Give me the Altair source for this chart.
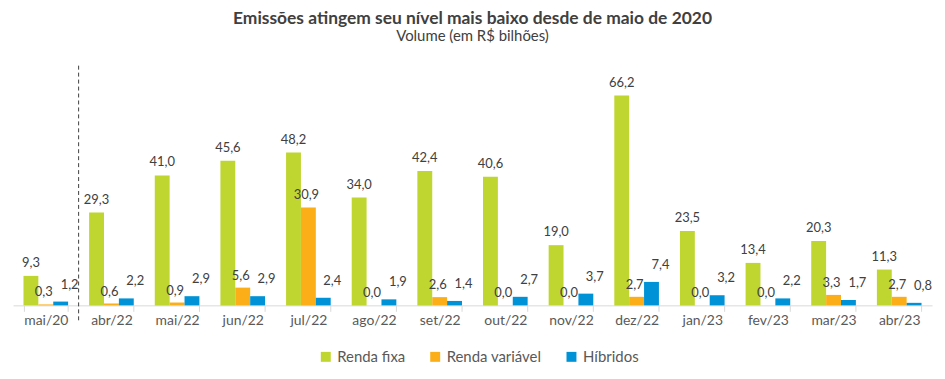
import altair as alt
import pandas as pd

cats = ["mai/20", "abr/22", "mai/22", "jun/22", "jul/22", "ago/22", "set/22",
        "out/22", "nov/22", "dez/22", "jan/23", "fev/23", "mar/23", "abr/23"]
series = ["Renda fixa", "Renda variável", "Híbridos"]
fixa = [9.3, 29.3, 41.0, 45.6, 48.2, 34.0, 42.4, 40.6, 19.0, 66.2, 23.5, 13.4, 20.3, 11.3]
variavel = [0.3, 0.6, 0.9, 5.6, 30.9, 0.0, 2.6, 0.0, 0.0, 2.7, 0.0, 0.0, 3.3, 2.7]
hibridos = [1.2, 2.2, 2.9, 2.9, 2.4, 1.9, 1.4, 2.7, 3.7, 7.4, 3.2, 2.2, 1.7, 0.8]
colors = ["#C0D630", "#FBAE17", "#0092D6"]

rows = []
for s, vals in zip(series, [fixa, variavel, hibridos]):
    for c, v in zip(cats, vals):
        rows.append({"cat": c, "serie": s, "valor": v,
                     "rotulo": f"{v:.1f}".replace(".", ",")})
df = pd.DataFrame(rows)

FONT = "Lato"
W = 924
PAD_IN = 0.32
PAD_OUT = 0.16
xenc = alt.X("cat:N", sort=cats, title=None,
             scale=alt.Scale(paddingInner=PAD_IN, paddingOuter=PAD_OUT),
             axis=alt.Axis(labelAngle=0, tickBand="extent", domainColor="#d9d9d9",
                           tickColor="#d9d9d9", tickSize=6, labelFontSize=14,
                           labelColor="#595959", labelFont=FONT, labelPadding=2))
xoff = alt.XOffset("serie:N", sort=series, scale=alt.Scale(paddingInner=0, paddingOuter=0))
yenc = alt.Y("valor:Q", scale=alt.Scale(domain=[0, 75]), axis=None)

base = alt.Chart(df).encode(x=xenc, xOffset=xoff, y=yenc)

bars = base.mark_bar().encode(
    color=alt.Color("serie:N", sort=series,
                    scale=alt.Scale(domain=series, range=colors),
                    legend=alt.Legend(title=None, orient="none", direction="horizontal",
                                      legendX=307, legendY=283,
                                      symbolType="square", symbolSize=100,
                                      labelFontSize=15, labelFont=FONT,
                                      labelColor="#595959", columnPadding=22,
                                      symbolStrokeWidth=0))
)

txt_style = dict(fontSize=13, font=FONT, color="#404040", baseline="middle")
lab_fixa = base.transform_filter(alt.datum.serie == "Renda fixa").mark_text(dy=-13, **txt_style).encode(text="rotulo:N")
lab_var = base.transform_filter(alt.datum.serie == "Renda variável").mark_text(dy=-12, dx=-2, **txt_style).encode(text="rotulo:N")
lab_hib = base.transform_filter(alt.datum.serie == "Híbridos").mark_text(dy=-17, dx=9, **txt_style).encode(text="rotulo:N")

# separator at the boundary between the first and second category
step = W / (len(cats) - PAD_IN + 2 * PAD_OUT)
sep = alt.Chart(pd.DataFrame({"cat": ["mai/20"]})).mark_rule(
    strokeDash=[4, 3], color="#404040", strokeWidth=1, xOffset=step * PAD_IN / 2
).encode(x=alt.X("cat:N", sort=cats, bandPosition=1), y=alt.value(-2), y2=alt.value(256))

chart = alt.layer(bars, lab_fixa, lab_var, lab_hib, sep).properties(
    width=W, height=239,
    padding={"left": 5, "top": 1, "right": 5, "bottom": 5},
    title=alt.TitleParams(
        text="Emissões atingem seu nível mais baixo desde de maio de 2020",
        subtitle="Volume (em R$ bilhões)",
        fontSize=17.5, font=FONT, fontWeight="bold", color="#404040",
        subtitleFontSize=15, subtitleFont=FONT, subtitleColor="#404040",
        subtitlePadding=2, anchor="middle", offset=21)
).configure_view(stroke=None)

chart.save("out.html", embed_options={"renderer": "svg", "actions": False})
